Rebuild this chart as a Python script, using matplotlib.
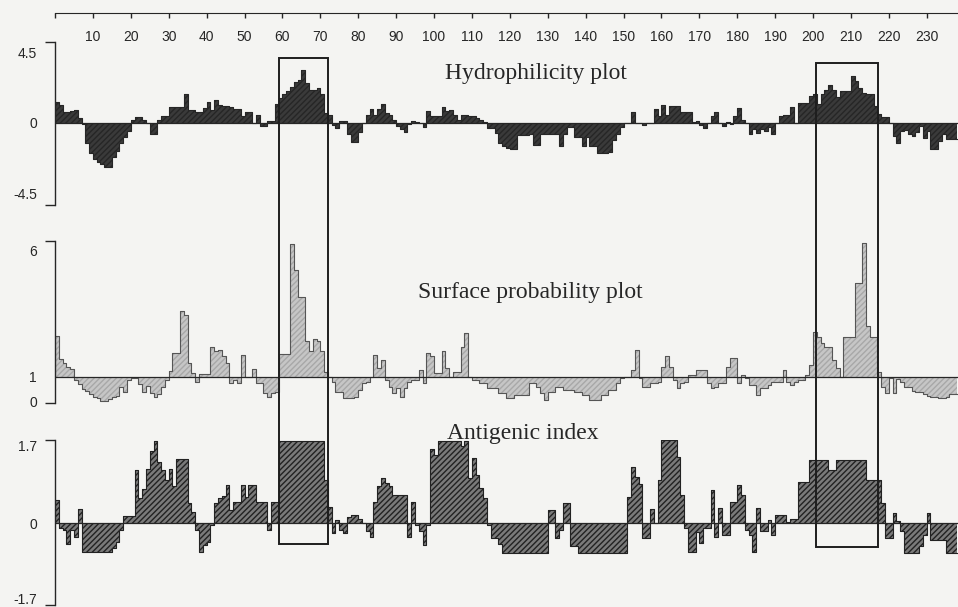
import numpy as np
import matplotlib
matplotlib.use("Agg")
import matplotlib.pyplot as plt
from matplotlib.patches import Rectangle
from matplotlib.transforms import blended_transform_factory

# per-residue scores (residue 1..238)
hydrophilicity = [
    1.35, 1.1, 0.7, 0.7, 0.75, 0.8, 0.3, -0.1, -1.3, -1.9,
    -2.3, -2.5, -2.6, -2.8, -2.8, -2.2, -1.8, -1.3, -0.9, -0.5,
    0.2, 0.35, 0.35, 0.2, 0.0, -0.7, -0.7, 0.2, 0.45, 0.45,
    1.0, 1.0, 1.0, 1.0, 1.8, 0.8, 0.8, 0.7, 0.7, 0.95,
    1.3, 0.8, 1.45, 1.1, 1.05, 1.05, 1.0, 0.9, 0.9, 0.4,
    0.7, 0.7, 0.0, 0.5, -0.2, -0.2, 0.1, 0.1, 1.2, 1.6,
    1.8, 2.0, 2.3, 2.6, 2.7, 3.35, 2.5, 2.1, 2.1, 2.2,
    1.8, 0.6, 0.5, -0.15, -0.35, 0.1, 0.1, -0.7, -1.2, -1.2,
    -0.6, 0.0, 0.5, 0.9, 0.5, 0.9, 1.2, 0.6, 0.5, 0.2,
    -0.2, -0.4, -0.6, -0.1, 0.1, 0.05, 0.0, -0.3, 0.75, 0.4,
    0.4, 0.45, 1.0, 0.75, 0.8, 0.5, 0.2, 0.5, 0.5, 0.45,
    0.4, 0.3, 0.15, 0.05, -0.35, -0.35, -0.65, -1.3, -1.5, -1.6,
    -1.65, -1.65, -0.8, -0.8, -0.8, -0.7, -1.4, -1.4, -0.7, -0.7,
    -0.7, -0.7, -0.7, -1.5, -0.7, -0.25, -0.25, -0.9, -0.9, -1.5,
    -0.9, -1.5, -1.5, -1.95, -1.95, -1.95, -1.85, -1.1, -0.7, -0.25,
    -0.05, 0.0, 0.7, -0.05, -0.05, -0.15, 0.0, 0.0, 0.9, 0.45,
    1.1, 0.5, 1.05, 1.05, 1.05, 0.7, 0.7, 0.7, 0.05, 0.1,
    -0.15, -0.36, 0.0, 0.4, 0.7, -0.05, -0.2, 0.05, -0.1, 0.4,
    0.95, 0.2, -0.05, -0.7, -0.4, -0.65, -0.4, -0.5, -0.3, -0.75,
    0.0, 0.4, 0.5, 0.5, 1.0, 0.0, 1.27, 1.27, 1.27, 1.7,
    1.85, 1.2, 1.8, 2.1, 2.4, 2.1, 1.65, 2.0, 2.0, 2.0,
    3.0, 2.65, 2.2, 1.9, 1.8, 1.8, 1.06, 0.53, 0.36, 0.36,
    0.0, -0.85, -1.27, -0.5, -0.45, -0.75, -0.85, -0.6, -0.2, -0.95,
    -0.5, -1.7, -1.7, -1.17, -0.75, -1.05, -1.05, -1.05,
]

surface = [
    2.6, 1.68, 1.53, 1.4, 1.3, 0.87, 0.7, 0.5, 0.45, 0.3,
    0.2, 0.15, 0.05, 0.03, 0.1, 0.2, 0.25, 0.6, 0.4, 0.85,
    0.95, 0.95, 0.7, 0.4, 0.65, 0.34, 0.2, 0.3, 0.6, 0.87,
    1.24, 1.92, 1.92, 3.6, 3.44, 1.53, 1.13, 0.8, 1.1, 1.1,
    1.1, 2.19, 2.0, 2.05, 1.8, 1.53, 0.76, 0.87, 0.76, 1.86,
    0.97, 0.97, 1.29, 0.76, 0.76, 0.37, 0.18, 0.34, 0.4, 1.9,
    1.9, 1.9, 6.24, 5.2, 4.16, 4.16, 2.4, 2.0, 2.5, 2.4,
    2.0, 1.2, 1.0, 0.8, 0.4, 0.4, 0.15, 0.15, 0.15, 0.2,
    0.47, 0.76, 0.8, 1.0, 1.86, 1.33, 1.66, 0.87, 0.6, 0.37,
    0.54, 0.21, 0.54, 0.8, 0.87, 0.87, 1.26, 0.74, 1.92, 1.8,
    1.13, 1.13, 2.0, 1.33, 1.0, 1.2, 1.2, 2.18, 2.74, 1.0,
    0.87, 0.87, 0.74, 0.74, 0.54, 0.54, 0.54, 0.34, 0.34, 0.15,
    0.15, 0.28, 0.28, 0.28, 0.28, 0.74, 0.74, 0.6, 0.34, 0.08,
    0.4, 0.4, 0.6, 0.6, 0.47, 0.47, 0.47, 0.4, 0.4, 0.28,
    0.28, 0.08, 0.08, 0.08, 0.28, 0.28, 0.47, 0.47, 0.74, 0.93,
    1.0, 1.0, 1.26, 2.05, 0.93, 0.6, 0.6, 0.74, 0.74, 0.8,
    1.4, 1.8, 1.4, 0.87, 0.54, 0.74, 0.8, 1.07, 1.07, 1.26,
    1.26, 1.26, 0.74, 0.54, 0.6, 0.74, 0.74, 1.4, 1.72, 1.72,
    0.74, 1.07, 0.93, 0.67, 0.67, 0.28, 0.54, 0.54, 0.67, 0.8,
    0.8, 0.8, 1.26, 0.8, 0.67, 0.8, 0.87, 0.87, 1.07, 1.46,
    2.78, 2.58, 2.32, 2.19, 2.19, 1.66, 1.33, 1.0, 2.58, 2.58,
    2.58, 4.69, 4.69, 6.3, 3.0, 2.55, 2.55, 1.2, 0.6, 0.35,
    0.95, 0.35, 0.9, 0.8, 0.6, 0.6, 0.45, 0.4, 0.4, 0.3,
    0.25, 0.2, 0.2, 0.15, 0.15, 0.2, 0.3, 0.3,
]

antigenic = [
    0.5, -0.1, -0.15, -0.45, -0.15, -0.3, 0.3, -0.62, -0.62, -0.62,
    -0.62, -0.62, -0.62, -0.62, -0.62, -0.55, -0.4, -0.15, 0.16, 0.16,
    0.16, 1.15, 0.54, 0.74, 1.17, 1.56, 1.78, 1.34, 1.16, 0.94,
    1.17, 0.8, 1.39, 1.39, 1.39, 0.43, 0.25, -0.15, -0.62, -0.47,
    -0.4, -0.05, 0.43, 0.54, 0.6, 0.83, 0.29, 0.47, 0.47, 0.83,
    0.58, 0.83, 0.83, 0.47, 0.47, 0.47, -0.15, 0.47, 0.47, 1.78,
    1.78, 1.78, 1.78, 1.78, 1.78, 1.78, 1.78, 1.78, 1.78, 1.78,
    1.78, 0.94, 0.36, -0.22, 0.07, -0.15, -0.22, 0.14, 0.17, 0.17,
    0.1, 0.0, -0.18, -0.29, 0.47, 0.8, 0.98, 0.87, 0.8, 0.62,
    0.62, 0.62, 0.62, -0.29, 0.47, -0.05, -0.18, -0.47, -0.05, 1.62,
    1.49, 1.78, 1.78, 1.78, 1.78, 1.78, 1.78, 1.67, 1.78, 0.98,
    1.41, 1.05, 0.76, 0.54, -0.05, -0.33, -0.33, -0.45, -0.65, -0.65,
    -0.65, -0.65, -0.65, -0.65, -0.65, -0.65, -0.65, -0.65, -0.65, -0.65,
    0.29, 0.29, -0.33, -0.15, 0.43, 0.43, -0.5, -0.5, -0.65, -0.65,
    -0.65, -0.65, -0.65, -0.65, -0.65, -0.65, -0.65, -0.65, -0.65, -0.65,
    -0.65, 0.58, 1.23, 1.0, 0.85, -0.33, -0.33, 0.3, 0.0, 0.94,
    1.81, 1.81, 1.81, 1.81, 1.45, 0.62, -0.1, -0.62, -0.62, -0.2,
    -0.43, -0.1, -0.1, 0.72, -0.29, 0.33, -0.25, -0.25, 0.47, 0.47,
    0.83, 0.62, -0.15, -0.25, -0.62, 0.33, -0.18, -0.18, 0.07, -0.25,
    0.18, 0.18, 0.18, 0.03, 0.1, 0.1, 0.9, 0.9, 0.9, 1.38,
    1.38, 1.38, 1.38, 1.38, 1.16, 1.16, 1.38, 1.38, 1.38, 1.38,
    1.38, 1.38, 1.38, 1.38, 0.94, 0.94, 0.94, 0.94, 0.43, -0.33,
    -0.33, 0.22, 0.05, -0.18, -0.65, -0.65, -0.65, -0.65, -0.5, -0.25,
    0.22, -0.36, -0.36, -0.36, -0.36, -0.65, -0.65, -0.65,
]

ruler_ticks = list(range(0, 231, 10))
epitopes = [(59.2, 72.0), (200.9, 217.2)]

W, H = 958, 607
bg = "#f4f4f2"
ink = "#262626"
plt.rcParams["font.family"] = ["Liberation Sans", "DejaVu Sans"]
plt.rcParams["hatch.linewidth"] = 1.0

fig = plt.figure(figsize=(W / 100, H / 100), dpi=100, facecolor=bg)
xmax = (W - 55) / 3.79


def px_axes(top, bottom):
    return fig.add_axes([55 / W, 1 - bottom / H, (W - 55) / W, (bottom - top) / H])


def panel(top, bottom, ylim, labels):
    ax = px_axes(top, bottom)
    ax.set_facecolor("none")
    ax.set_xlim(0, xmax)
    ax.set_ylim(*ylim)
    for s in ("top", "right", "bottom"):
        ax.spines[s].set_visible(False)
    ax.spines["left"].set_color(ink)
    ax.spines["left"].set_linewidth(1.0)
    ax.set_xticks([])
    ax.set_yticks(list(ylim))
    ax.set_yticklabels(["", ""])
    ax.tick_params(axis="y", which="major", length=7, width=1.0, color=ink)
    ax.set_yticks([v for v, _ in labels], minor=True)
    ax.set_yticklabels([t for _, t in labels], minor=True)
    ax.tick_params(axis="y", which="minor", length=0, pad=13, labelsize=10, labelcolor=ink)
    return ax


def bars(ax, vals, base, face, hatch, hcol, outline, lw):
    x = np.arange(len(vals) + 1)
    y = np.r_[vals, vals[-1]]
    ax.fill_between(x, y, base, step="post", facecolor=face, edgecolor=hcol,
                    hatch=hatch, linewidth=0)
    ax.step(x, y, where="post", color=outline, lw=lw)
    ax.axhline(base, color=ink, lw=0.9)


# residue ruler along the top
axr = fig.add_axes([55 / W, 1 - 13 / H, (W - 55) / W, 0.0001])
axr.set_facecolor("none")
axr.set_xlim(0, xmax)
for s in ("top", "right", "left"):
    axr.spines[s].set_visible(False)
axr.spines["bottom"].set_color(ink)
axr.set_yticks([])
axr.set_xticks(ruler_ticks)
axr.set_xticklabels(["" if t == 0 else str(t) for t in ruler_ticks])
axr.tick_params(axis="x", length=3.6, width=1.0, color=ink, pad=8.5,
                labelsize=10, labelcolor=ink)

ax1 = panel(42, 205, (-5.24, 5.14), [(4.5, "4.5"), (0, "0"), (-4.5, "-4.5")])
bars(ax1, hydrophilicity, 0, "#3a3a3a", "//////", "#262626", "#262626", 0.8)

ax2 = panel(241, 403, (-0.04, 6.36), [(6, "6"), (1, "1"), (0, "0")])
bars(ax2, surface, 1, "#c6c6c6", "//////", "#a8a8a8", "#555555", 0.8)

ax3 = panel(440, 605, (-1.78, 1.81), [(1.7, "1.7"), (0, "0"), (-1.64, "-1.7")])
bars(ax3, antigenic, 0, "#7a7a7a", "//////", "#222222", "#222222", 0.8)

serif = ["Liberation Serif", "DejaVu Serif"]
fig.text(535.5 / W, 1 - 79 / H, "Hydrophilicity plot", ha="center", va="baseline",
         fontsize=17, family=serif, color=ink)
fig.text(530 / W, 1 - 298 / H, "Surface probability plot", ha="center", va="baseline",
         fontsize=17, family=serif, color=ink)
fig.text(523 / W, 1 - 439 / H, "Antigenic index", ha="center", va="baseline",
         fontsize=17, family=serif, color=ink)

# boxed regions spanning all three panels
tr = blended_transform_factory(ax3.transData, fig.transFigure)
for (x0, x1), (top, bottom) in zip(epitopes, [(58, 544), (63, 547)]):
    fig.add_artist(Rectangle((x0, 1 - bottom / H), x1 - x0, (bottom - top) / H,
                             transform=tr, fill=False, ec="#1e1e1e", lw=1.4, zorder=10))

fig.savefig("out.png", dpi=100, facecolor=bg)
